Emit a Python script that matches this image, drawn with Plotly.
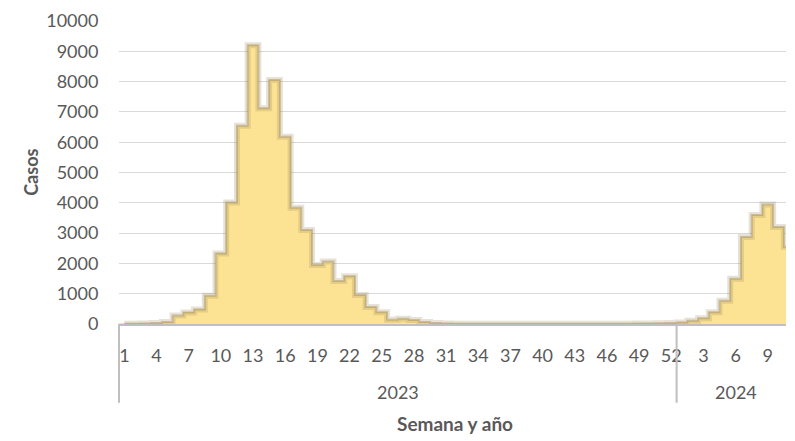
import plotly.graph_objects as go

# ---- data ----
weeks_2023 = list(range(1, 53))
cases_2023 = [10, 10, 20, 30, 70, 280, 380, 480, 935, 2330,
              4010, 6545, 9200, 7120, 8050, 6180, 3840, 3100, 1950, 2060,
              1420, 1580, 955, 560, 385, 140, 170, 130, 70, 30,
              15, 12, 10, 10, 10, 10, 10, 10, 10, 10,
              10, 10, 10, 10, 10, 10, 10, 12, 15, 20,
              25, 30]
weeks_2024 = list(range(1, 12))
cases_2024 = [50, 110, 190, 390, 770, 1490, 2870, 3600, 3940, 3200, 2550]
years = ["2023", "2024"]
y_ticks = list(range(0, 10001, 1000))
y_tick_text = [str(v) for v in y_ticks]

# ---- build ----
week_labels = [str(w) for w in weeks_2023] + [str(w) for w in weeks_2024]
values = cases_2023 + cases_2024
idx = list(range(len(values)))
n23 = len(weeks_2023)
n_all = len(values)
x_range = [-0.5, n_all - 1.3]

tick_idx = idx[::3]
tick_txt = [week_labels[i] for i in tick_idx]

FILL = "#FCE394"
TXT = "#595959"
FONT = "Lato"

fig = go.Figure()
fig.add_trace(go.Bar(x=idx, y=values, marker=dict(color=FILL, line=dict(width=0)),
                     width=1.0, hoverinfo="y"))
fig.add_trace(go.Scatter(x=idx, y=values, mode="lines",
                         line=dict(shape="hvh", color="rgba(160,140,90,0.25)", width=6),
                         hoverinfo="skip"))
fig.add_trace(go.Scatter(x=idx, y=values, mode="lines",
                         line=dict(shape="hvh", color="rgba(160,140,90,0.45)", width=2),
                         hoverinfo="skip"))

span = x_range[1] - x_range[0]
sep_paper = (n23 - 0.5 - x_range[0]) / span
line_bottom = -0.26
for xp in [0, sep_paper]:
    fig.add_shape(type="line", xref="paper", yref="paper", x0=xp, x1=xp, y0=0, y1=line_bottom,
                  line=dict(color="#BFBFBF", width=2))

centers = [(0 + n23 - 1) / 2, (n23 + n_all - 1) / 2]
for yr, c in zip(years, centers):
    fig.add_annotation(x=c, xref="x", y=-0.224, yref="paper", text=yr, showarrow=False,
                       font=dict(family=FONT, size=18, color=TXT), yanchor="middle")

fig.add_annotation(x=0.504, xref="paper", y=-0.327, yref="paper", text="<b>Semana y año</b>",
                   showarrow=False, font=dict(family=FONT, size=19, color=TXT), yanchor="middle")
fig.add_annotation(x=-0.133, xref="paper", y=0.5, yref="paper", text="<b>Casos</b>", textangle=-90,
                   showarrow=False, font=dict(family=FONT, size=18, color=TXT), xanchor="center")

# page body has an 8px margin, so the figure is offset by 8px in the window
fig.update_layout(
    width=787, height=433,
    margin=dict(l=111, r=9, t=13, b=117, autoexpand=False),
    paper_bgcolor="white", plot_bgcolor="white",
    bargap=0, showlegend=False,
    font=dict(family=FONT, size=18, color=TXT),
)
fig.update_xaxes(range=x_range, tickmode="array", tickvals=tick_idx, ticktext=tick_txt,
                 showgrid=False, zeroline=False, showline=True, linecolor="#BFBFBF", linewidth=2,
                 ticks="outside", ticklen=14, tickcolor="rgba(0,0,0,0)",
                 tickfont=dict(family=FONT, size=18, color=TXT))
fig.update_yaxes(range=[0, 10000], tickmode="array", tickvals=y_ticks, ticktext=y_tick_text,
                 showgrid=True, gridcolor="#D9D9D9", gridwidth=1, zeroline=False, showline=False,
                 ticks="outside", ticklen=16, tickcolor="rgba(0,0,0,0)",
                 tickfont=dict(family=FONT, size=18, color=TXT))

fig.write_html("out.html")
